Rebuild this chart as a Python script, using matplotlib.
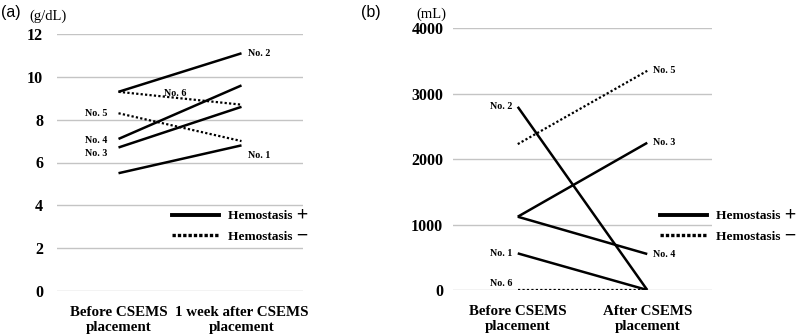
import matplotlib
matplotlib.use("Agg")
import matplotlib.pyplot as plt
from matplotlib.lines import Line2D

plt.rcParams.update({'font.family': ['Liberation Serif', 'Noto Sans CJK JP', 'DejaVu Serif'], 'font.size': 11})

# patients No.1 .. No.6
patients = ["No. 1", "No. 2", "No. 3", "No. 4", "No. 5", "No. 6"]
hemostasis = [True, True, True, True, False, False]

# (a) hemoglobin, g/dL
hb_before = [5.5, 9.3, 6.7, 7.1, 8.3, 9.3]
hb_after = [6.8, 11.1, 8.6, 9.6, 7.0, 8.7]
# (b) transfusion volume, mL
tf_before = [560, 2800, 1120, 1120, 2230, 0]
tf_after = [0, 0, 2250, 550, 3350, 0]

cats_a = ["Before CSEMS\nplacement", "1 week after CSEMS\nplacement"]
cats_b = ["Before CSEMS\nplacement", "After CSEMS\nplacement"]

GRID = "#c4c4c4"
SOLID = dict(color="black", lw=1.8, ls="-")
DOT = dict(color="black", lw=1.6, ls=(0, (1, 1)))

fig = plt.figure(figsize=(8, 3.36), dpi=100)
fig.patch.set_facecolor("white")

axa = fig.add_axes([57/800, 1-291/336, 246/800, 257/336])
axb = fig.add_axes([453/800, 1-290/336, 259/800, 261.7/336])

def setup(ax, ticks, cats, pad):
    ax.set_xlim(-0.5, 1.5)
    ax.set_ylim(ticks[0], ticks[-1])
    ax.set_yticks(ticks)
    ax.set_xticks([0, 1])
    ax.set_xticklabels(cats, fontsize=10.8, fontweight="bold", linespacing=1.2)
    for s in ax.spines.values():
        s.set_visible(False)
    ax.tick_params(axis="both", length=0)
    ax.tick_params(axis="y", pad=pad, labelsize=11.5)
    ax.tick_params(axis="x", pad=11)
    for t in ax.get_yticklabels():
        t.set_fontweight("bold")
    ax.grid(axis="y", color=GRID, lw=1.0)
    ax.set_axisbelow(True)

setup(axa, [0, 2, 4, 6, 8, 10, 12], cats_a, 10)
setup(axb, [0, 1000, 2000, 3000, 4000], cats_b, 7)

for i in range(len(patients)):
    st = SOLID if hemostasis[i] else DOT
    axa.plot([0, 1], [hb_before[i], hb_after[i]], **st, solid_capstyle="butt")
    axb.plot([0, 1], [tf_before[i], tf_after[i]], **st, solid_capstyle="butt")

lab = dict(fontsize=7.2, fontweight="bold", textcoords="offset points", va="center")
# (a) labels
axa.annotate("No. 2", (1, hb_after[1]), xytext=(5, 0), ha="left", **lab)
axa.annotate("No. 1", (1, hb_after[0]), xytext=(5, -7), ha="left", **lab)
axa.annotate("No. 5", (0, hb_before[4]), xytext=(-8, 0), ha="right", **lab)
axa.annotate("No. 4", (0, hb_before[3]), xytext=(-8, -1), ha="right", **lab)
axa.annotate("No. 3", (0, hb_before[2]), xytext=(-8, -4), ha="right", **lab)
axa.annotate("No. 6", (0.46, 9.02), xytext=(0, 3), ha="center", **lab)
# (b) labels
axb.annotate("No. 5", (1, tf_after[4]), xytext=(4, 0), ha="left", **lab)
axb.annotate("No. 3", (1, tf_after[2]), xytext=(4, 0), ha="left", **lab)
axb.annotate("No. 4", (1, tf_after[3]), xytext=(4, 0), ha="left", **lab)
axb.annotate("No. 2", (0, tf_before[1]), xytext=(-4, 0), ha="right", **lab)
axb.annotate("No. 1", (0, tf_before[0]), xytext=(-4, 0), ha="right", **lab)
axb.annotate("No. 6", (0, tf_before[5]), xytext=(-4, 5), ha="right", **lab)

handles = [Line2D([0], [0], color="black", lw=2.8, ls="-"),
           Line2D([0], [0], color="black", lw=2.4, ls=(0, (1, 0.6)))]
labels = ["Hemostasis \uff0b", "Hemostasis \uff0d"]
leg_kw = dict(frameon=False, handlelength=3.5, handletextpad=0.7,
              labelspacing=0.6, borderpad=0, borderaxespad=0, loc="upper left",
              prop=dict(family=['Liberation Serif', 'Noto Sans CJK JP'], size=9.6, weight="bold"))
fig.legend(handles, labels, bbox_to_anchor=(172/800, 1-210/336), **leg_kw)
fig.legend(handles, labels, bbox_to_anchor=(660/800, 1-210/336), **leg_kw)

fig.text(29/800, 1-16/336, "(g/dL)", fontsize=10.5, va="center", ha="left")
fig.text(416/800, 1-14/336, "(mL)", fontsize=10.5, va="center", ha="left")
fig.text(1/800, 1-13/336, "(a)", fontsize=11.5, va="center", ha="left", family="Liberation Sans")
fig.text(361/800, 1-13/336, "(b)", fontsize=11.5, va="center", ha="left", family="Liberation Sans")

fig.savefig("out.png", dpi=100, facecolor="white")
